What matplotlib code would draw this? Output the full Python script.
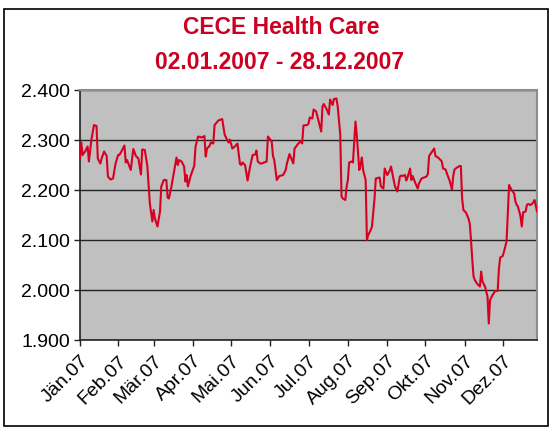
import matplotlib
matplotlib.use("Agg")
import matplotlib.pyplot as plt
from matplotlib.patches import Rectangle
from matplotlib.ticker import FuncFormatter
import pandas as pd

title_lines = ["CECE Health Care", "02.01.2007 - 28.12.2007"]

dates = [
    "2007-01-02", "2007-01-03", "2007-01-04", "2007-01-06", "2007-01-08", "2007-01-09",
    "2007-01-11", "2007-01-13", "2007-01-15", "2007-01-16", "2007-01-18", "2007-01-19",
    "2007-01-21", "2007-01-23", "2007-01-24", "2007-01-26", "2007-01-28", "2007-01-30",
    "2007-02-01", "2007-02-02", "2007-02-04", "2007-02-06", "2007-02-07", "2007-02-08",
    "2007-02-10", "2007-02-11", "2007-02-12", "2007-02-13", "2007-02-15", "2007-02-17",
    "2007-02-19", "2007-02-20", "2007-02-22", "2007-02-24", "2007-02-26", "2007-02-28",
    "2007-03-01", "2007-03-02", "2007-03-04", "2007-03-06", "2007-03-07", "2007-03-09",
    "2007-03-11", "2007-03-12", "2007-03-13", "2007-03-15", "2007-03-18", "2007-03-19",
    "2007-03-20", "2007-03-21", "2007-03-23", "2007-03-25", "2007-03-26", "2007-03-27",
    "2007-03-28", "2007-03-30", "2007-04-02", "2007-04-03", "2007-04-05", "2007-04-08",
    "2007-04-10", "2007-04-11", "2007-04-12", "2007-04-14", "2007-04-15", "2007-04-17",
    "2007-04-18", "2007-04-21", "2007-04-24", "2007-04-26", "2007-04-28", "2007-04-29",
    "2007-04-30", "2007-05-02", "2007-05-04", "2007-05-06", "2007-05-08", "2007-05-09",
    "2007-05-10", "2007-05-12", "2007-05-14", "2007-05-16", "2007-05-18", "2007-05-20",
    "2007-05-21", "2007-05-22", "2007-05-24", "2007-05-25", "2007-05-29", "2007-05-30",
    "2007-06-02", "2007-06-03", "2007-06-04", "2007-06-06", "2007-06-08", "2007-06-11",
    "2007-06-13", "2007-06-14", "2007-06-16", "2007-06-19", "2007-06-20", "2007-06-23",
    "2007-06-25", "2007-06-26", "2007-06-27", "2007-06-30",
    "2007-07-01", "2007-07-02", "2007-07-04", "2007-07-05", "2007-07-07", "2007-07-09",
    "2007-07-11", "2007-07-12", "2007-07-13", "2007-07-15", "2007-07-17", "2007-07-18",
    "2007-07-20", "2007-07-21", "2007-07-23", "2007-07-24", "2007-07-26", "2007-07-27",
    "2007-07-28", "2007-07-30", "2007-07-31", "2007-08-01", "2007-08-02", "2007-08-04",
    "2007-08-05", "2007-08-07", "2007-08-08", "2007-08-10", "2007-08-11", "2007-08-12",
    "2007-08-13", "2007-08-15", "2007-08-16", "2007-08-17", "2007-08-19", "2007-08-20",
    "2007-08-22", "2007-08-23", "2007-08-26", "2007-08-27", "2007-08-29", "2007-08-30",
    "2007-09-01", "2007-09-03", "2007-09-04", "2007-09-07", "2007-09-09", "2007-09-11",
    "2007-09-12", "2007-09-13", "2007-09-15", "2007-09-16", "2007-09-17", "2007-09-19",
    "2007-09-20", "2007-09-21", "2007-09-23", "2007-09-25", "2007-09-26", "2007-09-28",
    "2007-09-30", "2007-10-02", "2007-10-03", "2007-10-04", "2007-10-07", "2007-10-08",
    "2007-10-09", "2007-10-11", "2007-10-13", "2007-10-14", "2007-10-15", "2007-10-17",
    "2007-10-18", "2007-10-20", "2007-10-22", "2007-10-23", "2007-10-24", "2007-10-26",
    "2007-10-28", "2007-10-29", "2007-10-30", "2007-10-31", "2007-11-02", "2007-11-04",
    "2007-11-05", "2007-11-06", "2007-11-07", "2007-11-08", "2007-11-09", "2007-11-11",
    "2007-11-13", "2007-11-14", "2007-11-15", "2007-11-17", "2007-11-18", "2007-11-19",
    "2007-11-20", "2007-11-21", "2007-11-23", "2007-11-25", "2007-11-27", "2007-11-28",
    "2007-11-29", "2007-12-01", "2007-12-02", "2007-12-04", "2007-12-05", "2007-12-06",
    "2007-12-08", "2007-12-10", "2007-12-11", "2007-12-12", "2007-12-13", "2007-12-15",
    "2007-12-16", "2007-12-17", "2007-12-19", "2007-12-20", "2007-12-21", "2007-12-23",
    "2007-12-25", "2007-12-26", "2007-12-28",
]

values = [
    2.263, 2.295, 2.270, 2.277, 2.287, 2.257,
    2.301, 2.330, 2.328, 2.263, 2.253, 2.263,
    2.277, 2.268, 2.227, 2.221, 2.223, 2.253,
    2.270, 2.270, 2.279, 2.289, 2.255, 2.260,
    2.247, 2.240, 2.262, 2.282, 2.268, 2.263,
    2.231, 2.281, 2.280, 2.249, 2.173, 2.137,
    2.160, 2.143, 2.127, 2.157, 2.207, 2.220,
    2.220, 2.185, 2.183, 2.207, 2.250, 2.265,
    2.250, 2.260, 2.257, 2.247, 2.217, 2.230,
    2.207, 2.227, 2.249, 2.287, 2.307, 2.305,
    2.308, 2.267, 2.283, 2.288, 2.295, 2.293,
    2.330, 2.339, 2.342, 2.310, 2.300, 2.295,
    2.301, 2.283, 2.287, 2.293, 2.252, 2.250,
    2.255, 2.250, 2.219, 2.247, 2.270, 2.271,
    2.279, 2.257, 2.253, 2.253, 2.257, 2.307,
    2.297, 2.268, 2.260, 2.220, 2.228, 2.230,
    2.240, 2.253, 2.272, 2.253, 2.283, 2.293,
    2.298, 2.293, 2.329, 2.330,
    2.333, 2.345, 2.343, 2.361, 2.357, 2.337,
    2.317, 2.367, 2.372, 2.363, 2.351, 2.381,
    2.370, 2.382, 2.383, 2.367, 2.310, 2.187,
    2.183, 2.180, 2.207, 2.220, 2.255, 2.257,
    2.255, 2.337, 2.310, 2.240, 2.250, 2.265,
    2.240, 2.220, 2.100, 2.110, 2.120, 2.127,
    2.183, 2.223, 2.225, 2.207, 2.203, 2.243,
    2.230, 2.239, 2.247, 2.208, 2.197, 2.227,
    2.229, 2.228, 2.230, 2.219, 2.225, 2.243,
    2.220, 2.228, 2.215, 2.203, 2.213, 2.223,
    2.225, 2.227, 2.232, 2.268, 2.279, 2.283,
    2.268, 2.265, 2.260, 2.257, 2.243, 2.241,
    2.233, 2.220, 2.201, 2.228, 2.241, 2.245,
    2.248, 2.248, 2.183, 2.160, 2.155, 2.143,
    2.133, 2.100, 2.060, 2.027, 2.020, 2.012,
    2.007, 2.037, 2.017, 2.007, 1.997, 1.987,
    1.933, 1.980, 1.990, 1.998, 1.998, 2.043,
    2.065, 2.068, 2.077, 2.097, 2.153, 2.210,
    2.200, 2.193, 2.177, 2.170, 2.167, 2.147,
    2.127, 2.155, 2.157, 2.170, 2.172, 2.170,
    2.175, 2.180, 2.157,
]

month_labels = ["Jän.07", "Feb.07", "Mär.07", "Apr.07", "Mai.07", "Jun.07",
                "Jul.07", "Aug.07", "Sep.07", "Okt.07", "Nov.07", "Dez.07"]
y_ticks = [1.9, 2.0, 2.1, 2.2, 2.3, 2.4]

plt.rcParams['font.family'] = ['Liberation Sans', 'DejaVu Sans']

fig = plt.figure(figsize=(5.5, 4.28), dpi=100)
fig.patch.set_facecolor("white")
fig.add_artist(Rectangle((0.008, 0.005), 0.988, 0.975, transform=fig.transFigure,
                         fill=False, edgecolor="black", linewidth=1.2))

ax = fig.add_axes([0.1455, 0.2056, 0.8309, 0.5841])
ax.set_facecolor("#C0C0C0")

x = pd.to_datetime(dates)
ax.plot(x, values, color="#D80020", linewidth=1.5, zorder=3)

ax.set_ylim(1.9, 2.4)
ax.set_yticks(y_ticks)
ax.yaxis.set_major_formatter(FuncFormatter(lambda v, p: f"{v:.3f}"))
ax.grid(axis="y", color="#222222", linewidth=1.0, zorder=1)
ax.set_axisbelow(True)

xticks = pd.to_datetime(["2007-01-02"] + [f"2007-{m:02d}-01" for m in range(2, 13)])
ax.set_xlim(pd.Timestamp("2007-01-02"), pd.Timestamp("2007-12-28"))
ax.set_xticks(xticks)
ax.set_xticklabels(month_labels, rotation=45, ha="right", rotation_mode="anchor")

ax.tick_params(axis="both", labelsize=14, direction="out", length=4,
               color="#222222", width=1)
ax.tick_params(axis="y", pad=3)
ax.tick_params(axis="x", pad=5)

for s in ["left", "bottom"]:
    ax.spines[s].set_color("#222222")
    ax.spines[s].set_linewidth(1.2)
for s in ["top", "right"]:
    ax.spines[s].set_color("#8C8C8C")
    ax.spines[s].set_linewidth(1.5)

fig.text(0.511, 0.935, title_lines[0], ha="center", va="center",
         fontsize=16.5, fontweight="bold", color="#CC0022")
fig.text(0.508, 0.853, title_lines[1], ha="center", va="center",
         fontsize=16.5, fontweight="bold", color="#CC0022")

fig.savefig("out.png", dpi=100)
